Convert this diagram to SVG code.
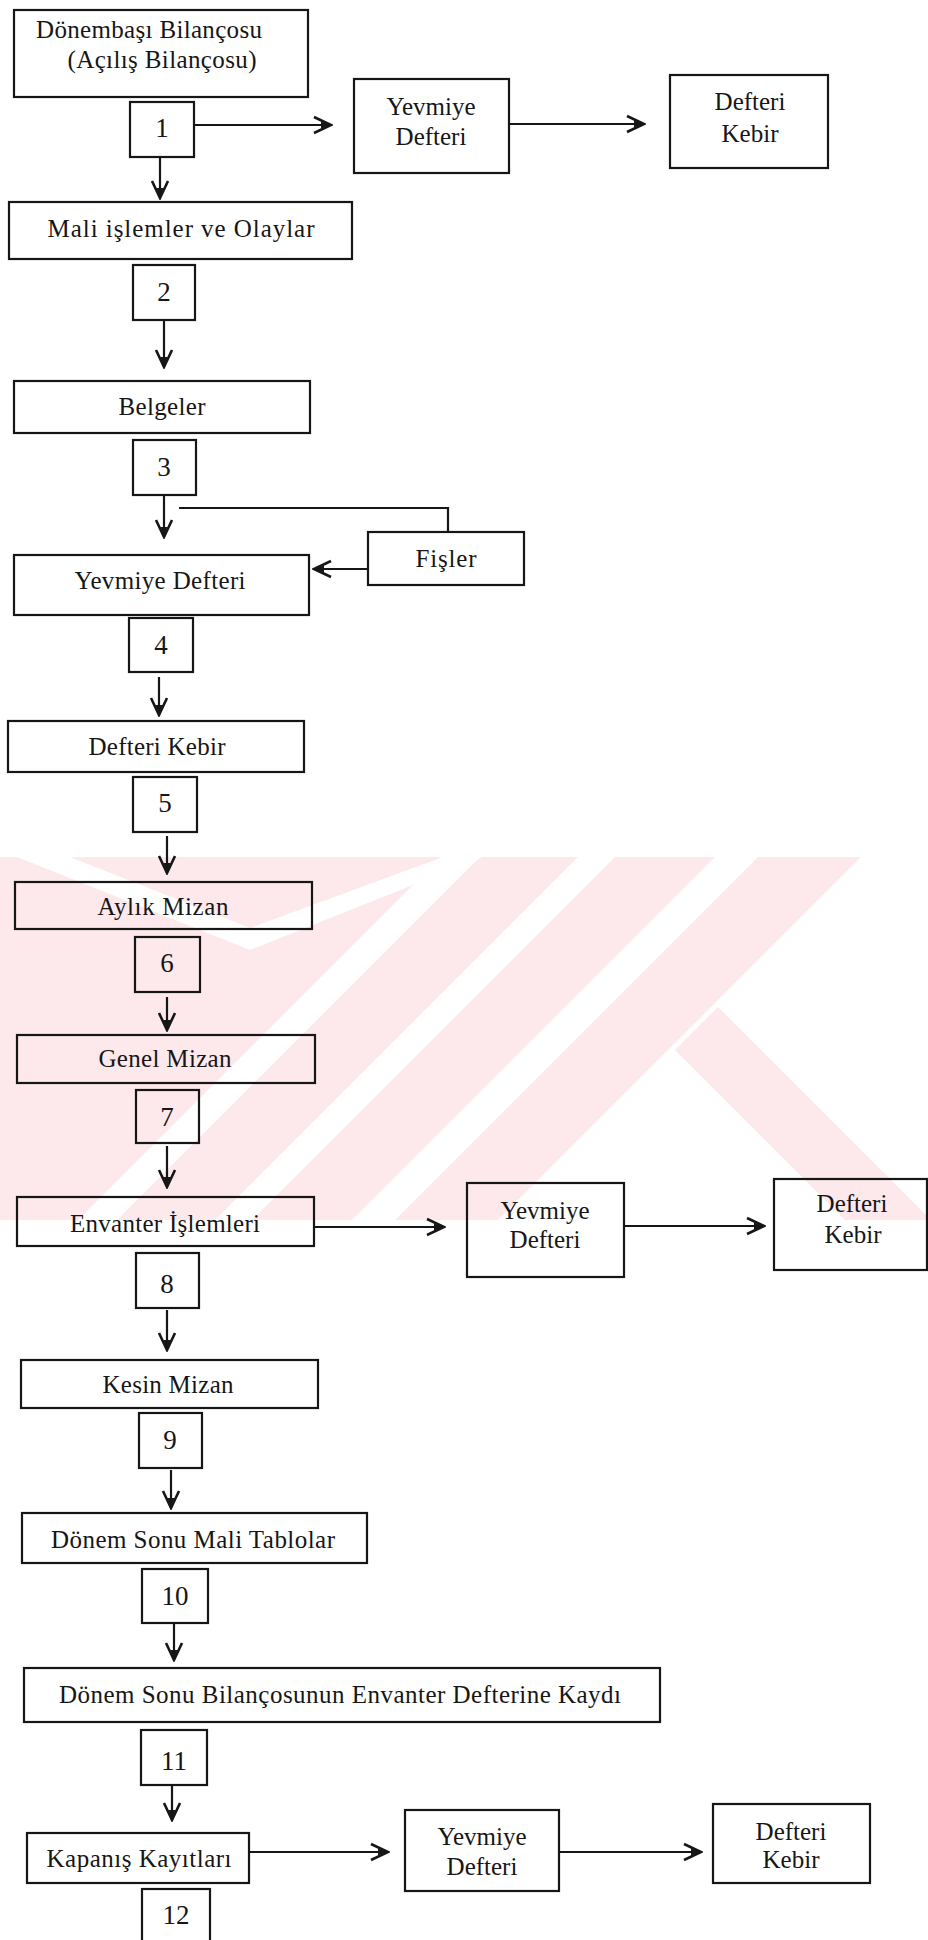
<svg xmlns="http://www.w3.org/2000/svg" width="928" height="1940" viewBox="0 0 928 1940">
<defs>
<style>
.box{fill:none;stroke:#161616;stroke-width:2.2}
.t{font-family:"Liberation Serif","Times New Roman",serif;font-size:25px;fill:#161616;text-anchor:middle}
.n{font-size:27px}
.c{fill:none;stroke:#161616;stroke-width:2.2}
.pk{fill:#fde8ec}
.wh{fill:#ffffff}
</style>
<marker id="ah" markerUnits="userSpaceOnUse" viewBox="-20 -10 22 20" refX="0" refY="0" markerWidth="22" markerHeight="20" orient="auto">
<path d="M-17,-8 L0,0 L-17,8" fill="none" stroke="#161616" stroke-width="2.6"/>
<path d="M-10,-3.5 L-1,0 L-10,3.5 Z" fill="#161616"/>
</marker>
<clipPath id="band"><rect x="0" y="857" width="928" height="363"/></clipPath>
</defs>
<rect x="0" y="0" width="928" height="1940" fill="#ffffff"/>
<g id="watermark" clip-path="url(#band)">
<rect class="pk" x="0" y="857" width="928" height="363"/>
<polygon class="wh" points="17,857 70,857 250,928 443,857 483,857 250,950"/>
<polygon class="wh" points="448,850 487,850 107,1230 68,1230"/>
<polygon class="wh" points="585,850 622,850 242,1230 205,1230"/>
<polygon class="wh" points="722,850 765,850 385,1230 342,1230"/>
<polygon class="wh" points="868,850 940,850 940,1230 488,1230"/>
<polygon class="pk" points="718,1007 941,1230 855,1230 675,1050"/>
</g>
<g id="connectors">
<path class="c" d="M160,157 V198" marker-end="url(#ah)"/>
<path class="c" d="M194,125 H331" marker-end="url(#ah)"/>
<path class="c" d="M509,124 H644" marker-end="url(#ah)"/>
<path class="c" d="M164,320 V367" marker-end="url(#ah)"/>
<path class="c" d="M164,495 V537" marker-end="url(#ah)"/>
<path class="c" d="M179,508 H448 V532"/>
<path class="c" d="M368,569 H314" marker-end="url(#ah)"/>
<path class="c" d="M159,677 V715" marker-end="url(#ah)"/>
<path class="c" d="M167,836 V873" marker-end="url(#ah)"/>
<path class="c" d="M167,997 V1030" marker-end="url(#ah)"/>
<path class="c" d="M167,1146 V1187" marker-end="url(#ah)"/>
<path class="c" d="M314,1227 H444" marker-end="url(#ah)"/>
<path class="c" d="M624,1226 H764" marker-end="url(#ah)"/>
<path class="c" d="M167,1310 V1350" marker-end="url(#ah)"/>
<path class="c" d="M171,1470 V1508" marker-end="url(#ah)"/>
<path class="c" d="M174,1623 V1660" marker-end="url(#ah)"/>
<path class="c" d="M172,1785 V1820" marker-end="url(#ah)"/>
<path class="c" d="M249,1852 H388" marker-end="url(#ah)"/>
<path class="c" d="M559,1852 H701" marker-end="url(#ah)"/>
</g>
<g id="n-acilis"><rect class="box" x="14" y="10" width="294" height="87"/><text class="t" x="149" y="38" textLength="226">Dönembaşı Bilançosu</text><text class="t" x="162" y="68" textLength="189">(Açılış Bilançosu)</text></g>
<g id="s1"><rect class="box" x="130" y="102" width="64" height="55"/><text class="t n" x="162" y="137">1</text></g>
<g id="n-yev1"><rect class="box" x="354" y="79" width="155" height="94"/><text class="t" x="431" y="115">Yevmiye</text><text class="t" x="431" y="145">Defteri</text></g>
<g id="n-dk1"><rect class="box" x="670" y="75" width="158" height="93"/><text class="t" x="750" y="110">Defteri</text><text class="t" x="750" y="142">Kebir</text></g>
<g id="n-mali"><rect class="box" x="9" y="202" width="343" height="57"/><text class="t" x="181" y="237" textLength="267">Mali işlemler  ve  Olaylar</text></g>
<g id="s2"><rect class="box" x="133" y="265" width="62" height="55"/><text class="t n" x="164" y="301">2</text></g>
<g id="n-belgeler"><rect class="box" x="14" y="381" width="296" height="52"/><text class="t" x="162" y="415" textLength="87">Belgeler</text></g>
<g id="s3"><rect class="box" x="133" y="440" width="63" height="55"/><text class="t n" x="164" y="476">3</text></g>
<g id="n-fisler"><rect class="box" x="368" y="532" width="156" height="53"/><text class="t" x="446" y="567" textLength="61">Fişler</text></g>
<g id="n-yevmiye"><rect class="box" x="14" y="555" width="295" height="60"/><text class="t" x="160" y="589" textLength="171">Yevmiye Defteri</text></g>
<g id="s4"><rect class="box" x="129" y="618" width="64" height="54"/><text class="t n" x="161" y="654">4</text></g>
<g id="n-kebir"><rect class="box" x="8" y="721" width="296" height="51"/><text class="t" x="157" y="755" textLength="137">Defteri Kebir</text></g>
<g id="s5"><rect class="box" x="133" y="777" width="64" height="55"/><text class="t n" x="165" y="812">5</text></g>
<g id="n-aylik"><rect class="box" x="15" y="882" width="297" height="47"/><text class="t" x="163" y="915" textLength="131">Aylık Mizan</text></g>
<g id="s6"><rect class="box" x="135" y="937" width="65" height="55"/><text class="t n" x="167" y="972">6</text></g>
<g id="n-genel"><rect class="box" x="17" y="1035" width="298" height="48"/><text class="t" x="165" y="1067" textLength="133">Genel Mizan</text></g>
<g id="s7"><rect class="box" x="136" y="1090" width="63" height="53"/><text class="t n" x="167" y="1126">7</text></g>
<g id="n-envanter"><rect class="box" x="17" y="1197" width="297" height="49"/><text class="t" x="165" y="1232" textLength="190">Envanter İşlemleri</text></g>
<g id="n-yev2"><rect class="box" x="467" y="1183" width="157" height="94"/><text class="t" x="545" y="1219">Yevmiye</text><text class="t" x="545" y="1248">Defteri</text></g>
<g id="n-dk2"><rect class="box" x="774" y="1179" width="153" height="91"/><text class="t" x="852" y="1212">Defteri</text><text class="t" x="853" y="1243">Kebir</text></g>
<g id="s8"><rect class="box" x="136" y="1253" width="63" height="55"/><text class="t n" x="167" y="1293">8</text></g>
<g id="n-kesin"><rect class="box" x="21" y="1360" width="297" height="48"/><text class="t" x="168" y="1393" textLength="131">Kesin Mizan</text></g>
<g id="s9"><rect class="box" x="139" y="1413" width="63" height="55"/><text class="t n" x="170" y="1449">9</text></g>
<g id="n-tablolar"><rect class="box" x="22" y="1513" width="345" height="50"/><text class="t" x="193" y="1548" textLength="284">Dönem Sonu Mali Tablolar</text></g>
<g id="s10"><rect class="box" x="142" y="1569" width="66" height="54"/><text class="t n" x="175" y="1605">10</text></g>
<g id="n-kayit"><rect class="box" x="24" y="1668" width="636" height="54"/><text class="t" x="340" y="1703" textLength="562">Dönem Sonu Bilançosunun Envanter Defterine Kaydı</text></g>
<g id="s11"><rect class="box" x="141" y="1730" width="66" height="55"/><text class="t n" x="174" y="1770">11</text></g>
<g id="n-kapanis"><rect class="box" x="27" y="1833" width="222" height="50"/><text class="t" x="139" y="1867" textLength="185">Kapanış Kayıtları</text></g>
<g id="n-yev3"><rect class="box" x="405" y="1810" width="154" height="81"/><text class="t" x="482" y="1845">Yevmiye</text><text class="t" x="482" y="1875">Defteri</text></g>
<g id="n-dk3"><rect class="box" x="713" y="1804" width="157" height="79"/><text class="t" x="791" y="1840">Defteri</text><text class="t" x="791" y="1868">Kebir</text></g>
<g id="s12"><rect class="box" x="142" y="1889" width="68" height="60"/><text class="t n" x="176" y="1924">12</text></g>
</svg>
